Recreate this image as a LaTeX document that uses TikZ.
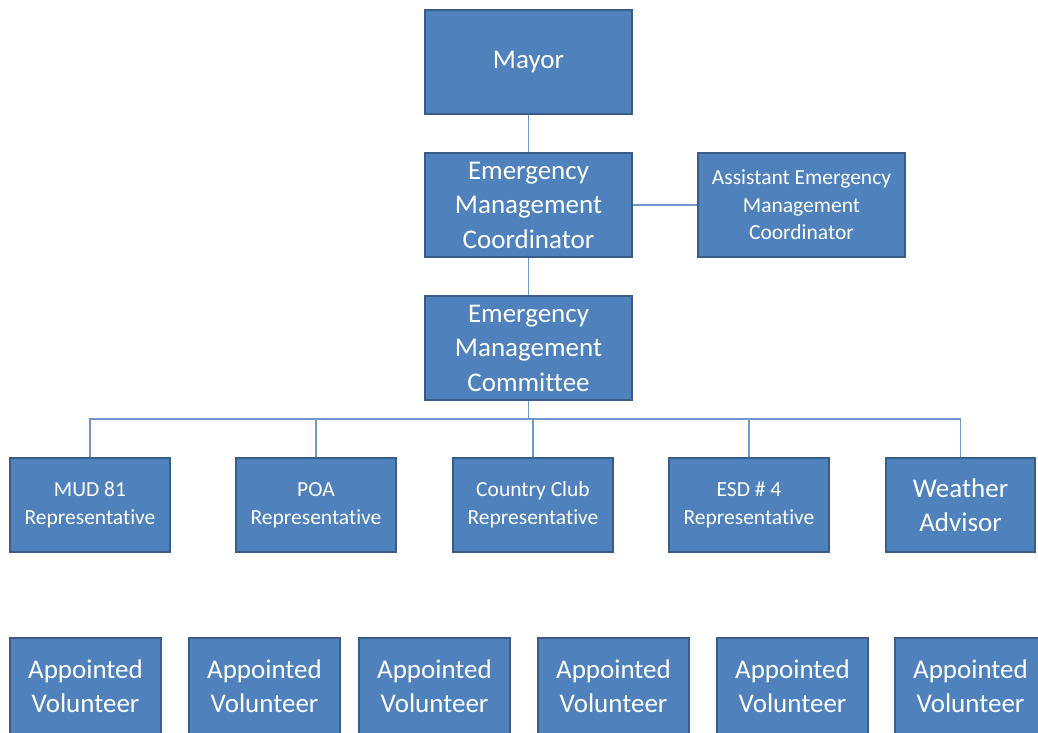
\documentclass[tikz,border=0pt]{standalone}
\usepackage{fontspec}
\setmainfont{Carlito}[Ligatures={NoCommon}]
\definecolor{boxblue}{HTML}{4F81BD}
\definecolor{boxedge}{HTML}{385D8A}
\definecolor{linkblue}{HTML}{7096CC}
\tikzset{
  orgbox/.style={draw=boxedge, line width=2.5pt, fill=boxblue, text=white, align=center, inner sep=0pt},
  bigtext/.style={font=\fontsize{27}{34.5}\selectfont},
  smalltext/.style={font=\fontsize{21.5}{27.5}\selectfont},
  toprow/.style={orgbox, minimum width=207pt, minimum height=104pt},
  reprow/.style={orgbox, minimum width=160pt, minimum height=94pt},
  volbox/.style={orgbox, bigtext, minimum width=151pt, minimum height=96pt},
  link/.style={draw=linkblue, line width=1.3pt}
}
\begin{document}
\begin{tikzpicture}[x=1pt,y=-1pt]
    \useasboundingbox (0,0) rectangle (1038,732);
    \coordinate (bar) at (528.5,419);

    \node[toprow,bigtext] (mayor) at (528.5,62) {Mayor};
    \node[toprow,bigtext] (emc) at (528.5,205) {Emergency\\Management\\Coordinator};
    \node[toprow,smalltext] (asst) at (801.5,205) {Assistant Emergency\\Management\\Coordinator};
    \node[toprow,bigtext] (comm) at (528.5,348) {Emergency\\Management\\Committee};

    \node[reprow,smalltext] (mud) at (90,505) {MUD 81\\Representative};
    \node[reprow,smalltext] (poa) at (316,505) {POA\\Representative};
    \node[reprow,smalltext] (club) at (533,505) {Country Club\\Representative};
    \node[reprow,smalltext] (esd) at (749,505) {ESD \# 4\\Representative};
    \node[reprow,bigtext,minimum width=149pt] (wx) at (960.5,505) {Weather\\Advisor};

    \foreach \x [count=\i] in {85.5, 264.5, 434.5, 613.5, 792.5, 970.5} {
        \node[volbox] (vol\i) at (\x,686) {Appointed\\Volunteer};
    }

    \draw[link] (mayor) -- (emc);
    \draw[link] (emc) -- (asst);
    \draw[link] (emc) -- (comm);
    \draw[link] (comm) -- (bar);
    \foreach \n in {mud, poa, club, esd, wx} {
        \draw[link] (bar) -| (\n.north);
    }
\end{tikzpicture}
\end{document}
